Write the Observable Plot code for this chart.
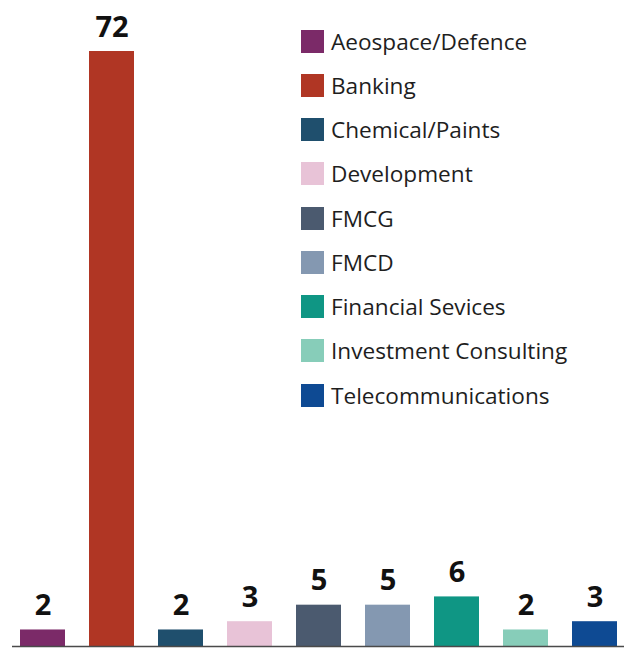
<!DOCTYPE html>
<html><head><meta charset="utf-8">
<script src="https://cdn.jsdelivr.net/npm/d3@7"></script>
<script src="https://cdn.jsdelivr.net/npm/@observablehq/plot@0.6"></script>
<style>
body{margin:0;background:#fff;}
#wrap{position:relative;width:627px;height:648px;overflow:hidden;}
#legend{position:absolute;left:301px;top:19px;font-family:"Open Sans",sans-serif;font-size:22.6px;color:#1e1e1e;}
.row{display:flex;align-items:center;height:44.25px;white-space:nowrap;}
.sw{width:23px;height:23px;margin-right:7px;flex:none;}
</style></head><body>
<div id="wrap"><div id="chart"></div><div id="legend"></div></div>
<script>
const categories = ["Aeospace/Defence","Banking","Chemical/Paints","Development","FMCG","FMCD","Financial Sevices","Investment Consulting","Telecommunications"];
const values = [2, 72, 2, 3, 5, 5, 6, 2, 3];
const colors = ["#7b2a68","#b03624","#1f4f6d","#e8c3d7","#4b5a6f","#8498b1","#0f9684","#87cdb9","#0e4a93"];

const data = categories.map((c, i) => ({category: c, value: values[i]}));

const chart = Plot.plot({
  width: 627,
  height: 648,
  marginTop: 51,
  marginBottom: 2,
  marginLeft: 12,
  marginRight: 3,
  x: {domain: categories, paddingInner: 0.35, paddingOuter: 0.086, axis: null},
  y: {domain: [0, 72], axis: null},
  color: {domain: categories, range: colors},
  style: {background: "#fff"},
  marks: [
    Plot.barY(data, {x: "category", y: "value", fill: "category"}),
    Plot.ruleY([0], {stroke: "#4a4a4a", strokeWidth: 1.3}),
    Plot.text(data, {x: "category", y: "value", text: d => String(d.value), lineAnchor: "bottom", dy: -15,
      fontSize: 29, fontWeight: "bold", fontFamily: "Open Sans", fill: "#111"})
  ]
});
document.getElementById("chart").appendChild(chart);

const legend = document.getElementById("legend");
categories.forEach((c, i) => {
  const row = document.createElement("div");
  row.className = "row";
  const sw = document.createElement("div");
  sw.className = "sw";
  sw.style.background = colors[i];
  const label = document.createElement("span");
  label.textContent = c;
  row.appendChild(sw);
  row.appendChild(label);
  legend.appendChild(row);
});
</script>
</body></html>
